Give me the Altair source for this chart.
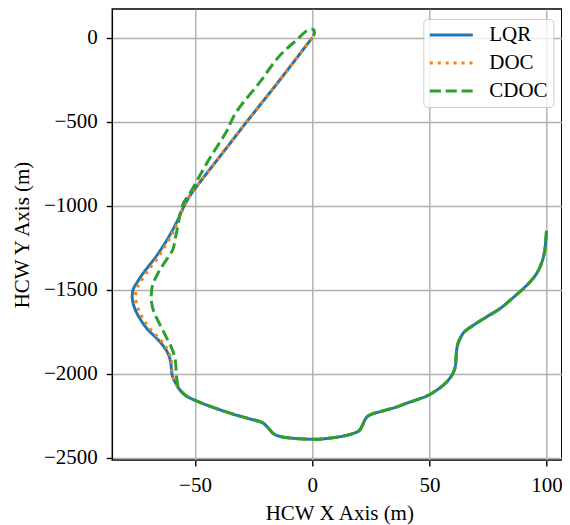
import altair as alt
import pandas as pd

# ---- data (trajectories, metres) ----
methods = ["LQR", "DOC", "CDOC"]
colors = ["#1f77b4", "#ff7f0e", "#2ca02c"]

lqr_x = [100.0, 99.7, 99.3, 98.4, 97.2, 95.6, 93.3, 90.6, 85.5, 79.9, 74.0, 68.5, 65.0, 63.3,
         62.2, 61.7, 61.4, 61.1, 60.3, 58.5, 55.7, 50.0, 45.7, 40.0, 35.8, 30.0, 25.5, 23.5,
         22.5, 21.5, 20.1, 17.0, 14.4, 8.0, 1.6, -5.6, -12.7, -15.5, -17.0, -18.3, -19.1,
         -21.2, -26.9, -34.1, -42.6, -49.7, -54.0, -56.8, -58.5, -59.7, -60.4, -61.2, -62.6,
         -64.5, -66.8, -70.0, -72.5, -74.8, -76.1, -76.8, -76.3, -74.7, -72.3, -69.7, -67.0,
         -64.5, -61.8, -59.6, -57.2, -55.3, -52.6, -49.7, -39.0, -28.3, -14.0, 0.0]
lqr_y = [-1150, -1200, -1260, -1318, -1365, -1407, -1448, -1487, -1550, -1615, -1665, -1714,
         -1750, -1785, -1820, -1853, -1900, -1952, -1990, -2031, -2071, -2125, -2150, -2177,
         -2199, -2222, -2240, -2255, -2275, -2305, -2338, -2358, -2368, -2383, -2390, -2387,
         -2377, -2365, -2352, -2330, -2318, -2292, -2268, -2239, -2199, -2160, -2130, -2090,
         -2050, -2011, -1932, -1890, -1853, -1818, -1783, -1740, -1694, -1640, -1596, -1545,
         -1495, -1457, -1405, -1358, -1310, -1259, -1200, -1146, -1080, -1020, -950, -893,
         -700, -507, -255, 0]

doc_x = [100.0, 99.7, 99.3, 98.4, 97.2, 95.6, 93.3, 90.6, 85.5, 79.9, 74.0, 68.5, 65.0, 63.3,
         62.2, 61.7, 61.4, 61.1, 60.3, 58.5, 55.7, 50.0, 45.7, 40.0, 35.8, 30.0, 25.5, 23.5,
         22.5, 21.5, 20.1, 17.0, 14.4, 8.0, 1.6, -5.6, -12.7, -15.5, -17.0, -18.3, -19.1,
         -21.2, -26.9, -34.1, -42.6, -49.7, -54.0, -56.8, -58.5, -59.6, -60.0, -60.7, -61.9,
         -63.6, -65.8, -68.8, -71.2, -73.4, -74.7, -75.4, -74.9, -73.4, -71.0, -68.5, -65.9,
         -63.6, -61.0, -59.0, -56.9, -55.1, -52.6, -49.7, -39.0, -28.3, -14.0, 0.0]
doc_y = lqr_y

cdoc_x = [100.0, 99.7, 99.3, 98.4, 97.2, 95.6, 93.3, 90.6, 85.5, 79.9, 74.0, 68.5, 65.0, 63.3,
          62.2, 61.7, 61.4, 61.1, 60.3, 58.5, 55.7, 50.0, 45.7, 40.0, 35.8, 30.0, 25.5, 23.5,
          22.5, 21.5, 20.1, 17.0, 14.4, 8.0, 1.6, -5.6, -12.7, -15.5, -17.0, -18.3, -19.1,
          -21.2, -26.9, -34.1, -42.6, -49.7, -54.0, -56.8, -57.6, -58.0, -58.3, -58.9, -60.4,
          -62.2, -64.0, -66.0, -67.5, -68.5, -68.7, -68.2, -66.5, -64.0, -61.4, -59.4, -58.5,
          -57.4, -56.4, -55.0, -52.2, -44.0, -36.9, -32.6, -22.6, -14.1, -6.7, -2.0, 0.5, 1.0,
          0.5]
cdoc_y = [-1150, -1200, -1260, -1318, -1365, -1407, -1448, -1487, -1550, -1615, -1665, -1714,
          -1750, -1785, -1820, -1853, -1900, -1952, -1990, -2031, -2071, -2125, -2150, -2177,
          -2199, -2222, -2240, -2255, -2275, -2305, -2338, -2358, -2368, -2383, -2390, -2387,
          -2377, -2365, -2352, -2330, -2318, -2292, -2268, -2239, -2199, -2160, -2130, -2090,
          -2051, -1991, -1932, -1890, -1833, -1785, -1734, -1680, -1635, -1580, -1536, -1477,
          -1420, -1360, -1305, -1259, -1200, -1125, -1050, -986, -926, -724, -566, -447, -269,
          -111, -14, 43, 48, 30, 10]

x_ticks = [-50, 0, 50, 100]
y_ticks = [-2500, -2000, -1500, -1000, -500, 0]

rows = []
for name, xs, ys in [("LQR", lqr_x, lqr_y), ("DOC", doc_x, doc_y), ("CDOC", cdoc_x, cdoc_y)]:
    for i, (xv, yv) in enumerate(zip(xs, ys)):
        rows.append({"method": name, "x": xv, "y": yv, "order": i})
df = pd.DataFrame(rows)

FONT = "Liberation Serif"
W, H = 449.5, 451

xscale = alt.Scale(domain=[-85.3, 106.5], nice=False, zero=False)
yscale = alt.Scale(domain=[-2513.7, 170.8], nice=False, zero=False)

legend = alt.Legend(
    title=None, orient="none", legendX=311, legendY=10, direction="vertical",
    symbolType="stroke", symbolSize=1849, symbolStrokeWidth=3,
    labelFont=FONT, labelFontSize=21, labelColor="black", labelOffset=15,
    padding=5, clipHeight=22, rowPadding=6,
    fillColor="rgba(255,255,255,0.8)", strokeColor="#cccccc", cornerRadius=4,
)

base = alt.Chart(df).mark_line(strokeWidth=3, clip=True, interpolate="catmull-rom").encode(
    x=alt.X("x:Q", scale=xscale,
            axis=alt.Axis(values=x_ticks, title="HCW X Axis (m)", format="d",
                          titleBaseline="alphabetic", titleY=60, titleX=227)),
    y=alt.Y("y:Q", scale=yscale,
            axis=alt.Axis(values=y_ticks, title="HCW Y Axis (m)", format="d",
                          titleBaseline="alphabetic", titleX=-84, titleY=H / 2)),
    color=alt.Color("method:N", scale=alt.Scale(domain=methods, range=colors), legend=legend),
    strokeDash=alt.StrokeDash("method:N",
                              scale=alt.Scale(domain=methods, range=[[1, 0], [3, 4.95], [11.1, 4.8]]),
                              legend=legend),
    order="order:Q",
)

layers = [base.transform_filter(alt.datum.method == m) for m in methods]

chart = alt.layer(*layers).properties(
    width=W, height=H,
    autosize=alt.AutoSizeParams(type="none"),
    padding={"left": 104.3, "top": 1, "right": 0, "bottom": 65},
).configure_view(
    stroke="black", strokeWidth=1.5
).configure_axis(
    domain=False, grid=True, gridColor="#b0b0b0", gridWidth=1.4,
    tickColor="black", tickWidth=1.4, tickSize=6, labelPadding=9,
    labelFont=FONT, labelFontSize=21, labelColor="black",
    titleFont=FONT, titleFontSize=21, titleFontWeight="normal", titleColor="black",
)

chart.save("out.html", embed_options={"renderer": "svg", "actions": False})
